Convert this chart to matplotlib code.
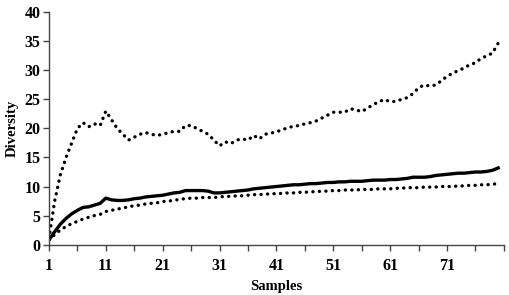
import numpy as np
import matplotlib
matplotlib.use("Agg")
import matplotlib.pyplot as plt

# diversity curves, samples 1..80
upper = [1, 7.5, 12, 15, 17.5, 20, 21, 20.3, 20.8, 20.5,
         23, 21.5, 20, 19, 18, 18.5, 19, 19.3, 19, 18.8,
         19, 19.3, 19.5, 19.5, 20.5, 20.5, 20, 19.5, 19, 18,
         17, 17.7, 17.4, 18, 18.2, 18, 18.8, 18.2, 19, 19.2,
         19.4, 19.8, 20.1, 20.4, 20.5, 20.8, 21, 21.3, 21.8, 22.3,
         22.8, 22.8, 22.8, 23.4, 23.2, 22.9, 23.5, 24.1, 24.6, 25.0,
         24.6, 24.7, 25.0, 25.3, 26.0, 27.0, 27.5, 27.3, 27.5, 28.2,
         29.0, 29.5, 30.0, 30.4, 31.0, 31.3, 32.1, 32.5, 33.0, 34.7]
middle = [0.8, 2.2, 3.5, 4.5, 5.3, 5.9, 6.4, 6.5, 6.8, 7.1,
          8.0, 7.7, 7.6, 7.6, 7.7, 7.9, 8.0, 8.2, 8.3, 8.4,
          8.5, 8.7, 8.9, 9.0, 9.3, 9.3, 9.3, 9.3, 9.2, 8.9,
          8.9, 9.0, 9.1, 9.2, 9.3, 9.4, 9.6, 9.7, 9.8, 9.9,
          10.0, 10.1, 10.2, 10.3, 10.3, 10.4, 10.5, 10.5, 10.6, 10.7,
          10.7, 10.8, 10.8, 10.9, 10.9, 10.9, 11.0, 11.1, 11.1, 11.1,
          11.2, 11.2, 11.3, 11.4, 11.6, 11.6, 11.6, 11.7, 11.9, 12.0,
          12.1, 12.2, 12.3, 12.3, 12.4, 12.5, 12.5, 12.6, 12.8, 13.2]
lower = [0.8, 1.7, 2.5, 3.1, 3.6, 4.0, 4.4, 4.7, 5.0, 5.2,
         5.7, 5.9, 6.1, 6.3, 6.5, 6.7, 6.8, 7.0, 7.1, 7.2,
         7.4, 7.5, 7.6, 7.8, 7.9, 8.0, 8.0, 8.1, 8.1, 8.1,
         8.2, 8.3, 8.3, 8.4, 8.4, 8.5, 8.6, 8.6, 8.7, 8.7,
         8.8, 8.8, 8.9, 8.9, 9.0, 9.0, 9.1, 9.1, 9.2, 9.2,
         9.3, 9.3, 9.4, 9.4, 9.4, 9.5, 9.5, 9.5, 9.6, 9.6,
         9.6, 9.7, 9.7, 9.8, 9.8, 9.8, 9.9, 9.9, 9.9, 10.0,
         10.0, 10.0, 10.1, 10.1, 10.2, 10.2, 10.3, 10.3, 10.4, 10.5]
samples = np.arange(1, len(upper) + 1)
xtick_labels = [1, 11, 21, 31, 41, 51, 61, 71]

plt.rcParams['font.family'] = ['Liberation Serif', 'DejaVu Serif']
plt.rcParams['font.weight'] = 'bold'

fig = plt.figure(figsize=(5.1, 2.95), dpi=100)
ax = fig.add_axes([0.096, 0.171, 0.892, 0.787])

dots = (0, (0.05, 1.9))
ax.plot(samples, upper, color='black', lw=2.4, linestyle=dots, dash_capstyle='round')
ax.plot(samples, lower, color='black', lw=2.4, linestyle=dots, dash_capstyle='round')
ax.plot(samples, middle, color='black', lw=2.4, solid_joinstyle='round')

ax.set_xlim(1, 81)
ax.set_ylim(0, 40)
ax.set_xticks(np.arange(1, 82, 5))
ax.set_xticklabels([str(v) if v in xtick_labels else '' for v in np.arange(1, 82, 5)])
ax.set_yticks(np.arange(0, 41, 5))

for s in ['top', 'right']:
    ax.spines[s].set_visible(False)
for s in ['left', 'bottom']:
    ax.spines[s].set_color('#444444')
    ax.spines[s].set_linewidth(1.0)
ax.tick_params(direction='out', length=4, width=1.0, color='#444444',
               labelsize=11.5, pad=2)
ax.tick_params(axis='x', pad=6)

ax.set_xlabel('Samples', fontsize=10.5, fontweight='bold', labelpad=4)
ax.set_ylabel('Diversity', fontsize=10.5, fontweight='bold', labelpad=4)

fig.savefig('out.png', dpi=100)
